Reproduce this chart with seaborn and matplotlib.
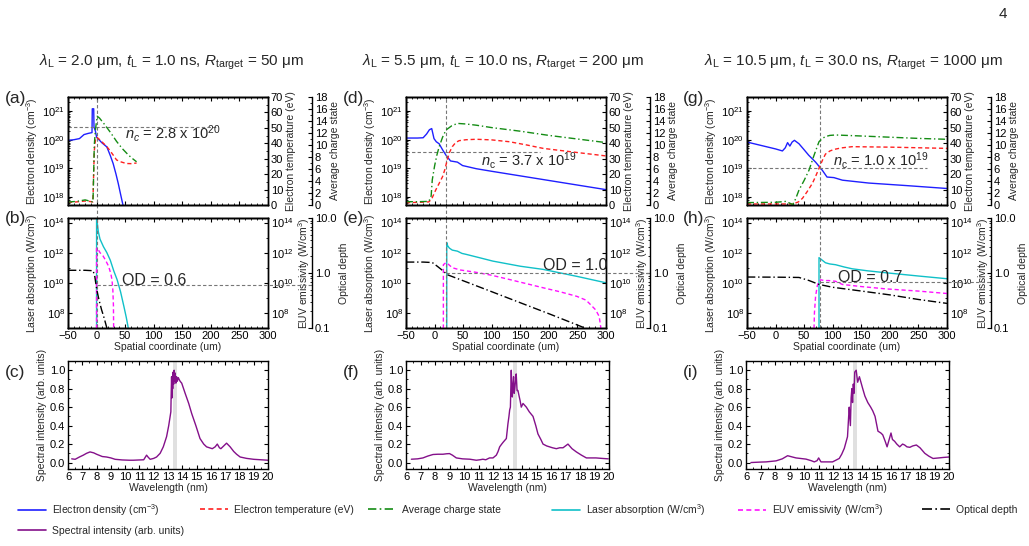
import numpy as np
import matplotlib
matplotlib.use('Agg')
import matplotlib.pyplot as plt
import matplotlib.ticker as mticker
from matplotlib.lines import Line2D
import seaborn as sns

# ---------------- data ----------------
titles = [r'$\lambda_\mathrm{L}$ = 2.0 μm, $t_\mathrm{L}$ = 1.0 ns, $R_\mathrm{target}$ = 50 μm',
          r'$\lambda_\mathrm{L}$ = 5.5 μm, $t_\mathrm{L}$ = 10.0 ns, $R_\mathrm{target}$ = 200 μm',
          r'$\lambda_\mathrm{L}$ = 10.5 μm, $t_\mathrm{L}$ = 30.0 ns, $R_\mathrm{target}$ = 1000 μm']
xc = [0, 20, 78]                      # critical surface position (um)
nc = [2.8e20, 3.7e19, 1.0e19]          # critical density
nc_txt = [r'$n_c$ = 2.8 x 10$^{20}$', r'$n_\mathrm{c}$ = 3.7 x 10$^{19}$', r'$n_\mathrm{c}$ = 1.0 x 10$^{19}$']
nc_end = [210, 185, 265]
od_cut = [0.6, 1.0, 0.7]
od_txt = ['OD = 0.6', 'OD = 1.0', 'OD = 0.7']

# (a) electron density (log10 cm^-3), temperature (eV), charge state
ne_a_x = [-50, -40, -30, -22, -15, -8, -7.5, -5, -4.5, -2, 0, 9, 18, 24, 29, 34, 38, 42, 47]
ne_a_lg = [19.98, 20.0, 20.04, 20.18, 20.22, 20.25, 21.08, 21.08, 20.44, 20.3, 20.09, 19.9, 19.75, 19.45, 19.17, 18.8, 18.47, 18.1, 17.65]
te_a_x = [-50, -35, -20, -10, -6.5, -6, -4, -2, 0, 5, 12, 18, 24, 29, 35, 43, 52, 60, 70]
te_a = [1.7, 2.0, 2.6, 2.2, 2.0, 8, 35, 42, 44, 42.5, 40, 37.8, 35, 32.4, 29.2, 27.9, 26.9, 26.8, 27.2]
z_a_x = [-50, -35, -20, -10, -6.5, -6, -4, -2, 1, 5, 15, 25, 35, 45, 55, 62, 70]
z_a = [0.5, 0.6, 0.85, 0.6, 0.5, 1.5, 10, 12.5, 14.8, 14.5, 13.3, 12, 10.6, 9.4, 8.4, 7.8, 7.2]
# (b) laser absorption, EUV emissivity (log10 W/cm^3), optical depth
las_b_x = [0, 0, 3, 6, 12, 18, 24, 30, 36, 42, 48, 52, 56]
las_b_lg = [6.5, 14.4, 13.4, 12.9, 12.4, 12.0, 11.5, 10.8, 10.2, 9.4, 8.4, 7.7, 6.9]
euv_b_x = [0, 0, 3, 6, 11, 15, 21, 25, 27, 28.5, 29.5, 30]
euv_b_lg = [6.5, 12.3, 12.2, 12.0, 11.8, 11.55, 11.1, 10.6, 10.2, 9.5, 8.5, 6.5]
od_b_x = [-50, -20, -6, -3, 0, 3, 6, 9, 12, 15, 18]
od_b = [1.12, 1.12, 1.1, 0.85, 0.52, 0.37, 0.275, 0.21, 0.168, 0.13, 0.1]
# (c) spectrum
sp_c_x = [6.26, 6.5, 6.8, 7.07, 7.3, 7.54, 7.8, 8.0, 8.4, 8.7, 9.0, 9.3, 9.8, 10.3, 10.57, 11.0, 11.3, 11.42, 11.5, 11.6,
          11.75, 12.0, 12.2, 12.45, 12.67, 12.9, 13.05, 13.14, 13.2, 13.22, 13.25, 13.28, 13.3, 13.33, 13.36, 13.4, 13.43,
          13.46, 13.5, 13.55, 13.6, 13.65, 13.72, 13.78, 13.85, 13.96, 14.2, 14.45, 14.66, 14.95, 15.24, 15.5, 15.7, 15.9,
          16.1, 16.3, 16.45, 16.6, 16.7, 16.9, 17.1, 17.35, 17.6, 17.8, 18.05, 18.5, 19.0, 19.5, 20.0]
sp_c = [0.04, 0.035, 0.06, 0.08, 0.1, 0.115, 0.105, 0.09, 0.065, 0.06, 0.05, 0.035, 0.028, 0.025, 0.025, 0.028, 0.03, 0.06,
        0.08, 0.06, 0.035, 0.045, 0.06, 0.1, 0.17, 0.28, 0.4, 0.49, 0.55, 0.72, 0.93, 0.7, 0.9, 0.8, 0.98, 0.85, 1.0, 0.88,
        0.97, 0.86, 0.93, 0.88, 0.92, 0.9, 0.88, 0.86, 0.75, 0.64, 0.53, 0.4, 0.26, 0.2, 0.17, 0.16, 0.15, 0.17, 0.2, 0.16,
        0.15, 0.18, 0.21, 0.17, 0.12, 0.09, 0.06, 0.045, 0.035, 0.03, 0.025]

# (d)
ne_d_x = [-50, -30, -20, -14, -9, -5, -1, 3, 8, 14, 20, 28, 40, 49, 60, 73, 100, 150, 200, 250, 300]
ne_d_lg = [20.06, 20.06, 20.07, 20.2, 20.35, 20.39, 20.04, 19.93, 19.86, 19.65, 19.46, 19.26, 19.22, 19.1, 19.05, 18.99,
           18.9, 18.74, 18.58, 18.42, 18.26]
te_d_x = [-50, -30, -10, -5, 2, 8, 14, 18, 22, 26, 31, 37, 43, 55, 73, 100, 131, 160, 190, 250, 300]
te_d = [1.5, 1.7, 2, 4, 9.7, 14, 18.4, 23, 29, 34, 37.8, 40.5, 41.7, 42.3, 42.6, 42.2, 41, 39, 36.7, 34, 31.8]
z_d_x = [-50, -30, -10, -6, -4, 0, 4, 8, 14, 20, 30, 40, 55, 73, 100, 150, 200, 250, 300]
z_d = [0.55, 0.55, 0.6, 1.5, 4.2, 6.5, 8.3, 9.7, 11.3, 12.5, 13.2, 13.6, 13.5, 13.3, 12.9, 12.3, 11.6, 11.0, 10.4]
# (e)
las_e_x = [21.3, 21.3, 23, 26, 31, 40, 48, 55, 75, 102, 150, 190, 250, 300]
las_e_lg = [6.5, 12.67, 12.45, 12.3, 12.17, 12.1, 11.95, 11.89, 11.7, 11.44, 11.1, 10.89, 10.42, 10.0]
euv_e_x = [15.4, 15.4, 19.6, 22, 31, 45, 72, 100, 131, 160, 190, 220, 249, 265, 273, 282, 288, 293]
euv_e_lg = [6.5, 11.2, 11.33, 11.3, 11.0, 10.85, 10.7, 10.5, 10.22, 9.95, 9.67, 9.4, 9.1, 8.85, 8.55, 8.2, 7.77, 6.5]
od_e_x = [-50, -20, -4, 5, 13.6, 22.5, 60, 100, 150, 200, 261, 280]
od_e = [1.58, 1.58, 1.55, 1.32, 1.12, 0.93, 0.66, 0.457, 0.288, 0.182, 0.102, 0.085]
# (f)
sp_f_x = [6.37, 6.8, 7.17, 7.5, 7.86, 8.2, 8.55, 8.8, 9.0, 9.2, 9.47, 9.9, 10.4, 10.85, 11.1, 11.3, 11.5, 11.76, 12.0,
          12.23, 12.35, 12.46, 12.6, 12.7, 12.92, 13.03, 13.1, 13.15, 13.2, 13.26, 13.3, 13.33, 13.38, 13.42, 13.46, 13.5,
          13.55, 13.6, 13.66, 13.72, 13.8, 13.87, 13.95, 14.07, 14.3, 14.5, 14.76, 14.95, 15.1, 15.3, 15.45, 15.7, 15.9,
          16.1, 16.37, 16.6, 16.83, 17.0, 17.17, 17.45, 17.75, 18.1, 18.44, 19.1, 19.5, 19.95]
sp_f = [0.036, 0.04, 0.05, 0.07, 0.087, 0.09, 0.09, 0.095, 0.097, 0.08, 0.05, 0.04, 0.036, 0.025, 0.03, 0.036, 0.03, 0.05,
        0.05, 0.08, 0.12, 0.17, 0.2, 0.22, 0.26, 0.42, 0.5, 0.57, 0.6, 1.0, 0.8, 0.71, 0.85, 0.93, 0.75, 0.8, 0.88, 0.96,
        0.78, 0.78, 0.72, 0.67, 0.6, 0.64, 0.6, 0.55, 0.5, 0.4, 0.31, 0.25, 0.2, 0.18, 0.17, 0.16, 0.15, 0.16, 0.16, 0.18,
        0.2, 0.15, 0.115, 0.08, 0.05, 0.05, 0.045, 0.04]

# (g)
ne_g_x = [-50, 0, 12, 17, 21, 25, 29, 33, 41, 50, 58, 70, 82, 90, 102, 117, 163, 230, 300]
ne_g_lg = [19.92, 19.68, 19.61, 19.72, 19.9, 19.78, 19.92, 19.98, 19.86, 19.65, 19.46, 19.22, 18.93, 18.7, 18.68, 18.59,
           18.49, 18.4, 18.3]
te_g_x = [-50, 0, 30, 40, 47, 55, 64.4, 70, 76, 82, 87.3, 95, 102, 115, 134, 200, 300]
te_g = [0.65, 0.65, 0.65, 2, 4.3, 8.5, 14, 18.5, 23.8, 29, 33, 35, 36, 37, 37.8, 37.5, 36.7]
z_g_x = [-50, 0, 18, 25, 30, 35, 41, 50, 58.5, 67, 76, 82, 87.3, 95, 105, 150, 200, 250, 300]
z_g = [0.4, 0.45, 0.6, 0.3, 0.05, 1.0, 2.5, 4.1, 5.8, 8.2, 10.55, 11.1, 11.4, 11.6, 11.67, 11.5, 11.3, 11.1, 10.95]
# (h)
las_h_x = [76, 76, 80, 87.3, 95, 105, 120, 134, 160, 192, 250, 300]
las_h_lg = [6.5, 11.67, 11.55, 11.33, 11.25, 11.2, 11.05, 10.93, 10.8, 10.67, 10.45, 10.27]
euv_h_x = [67, 68, 70, 73, 76, 79, 85, 93, 105, 117, 150, 192, 250, 300]
euv_h_lg = [6.5, 8.0, 9.1, 9.8, 10.1, 10.2, 10.15, 10.15, 10.1, 9.89, 9.75, 9.6, 9.45, 9.29]
od_h_x = [-50, 0, 41, 58.5, 76, 100, 150, 200, 250, 300]
od_h = [0.845, 0.84, 0.83, 0.73, 0.62, 0.55, 0.47, 0.40, 0.33, 0.28]
# (i)
sp_i_x = [6.34, 7.0, 7.38, 8.07, 8.5, 8.87, 9.2, 9.45, 10.14, 10.5, 10.71, 10.9, 11.01, 11.17, 11.5, 11.97, 12.43, 12.6,
          12.78, 13.0, 13.08, 13.12, 13.2, 13.25, 13.3, 13.35, 13.4, 13.45, 13.5, 13.6, 13.7, 13.82, 14.05, 14.2, 14.4,
          14.6, 14.74, 14.9, 15.1, 15.3, 15.43, 15.6, 15.73, 16.0, 16.1, 16.25, 16.4, 16.6, 16.8, 16.94, 17.1, 17.3, 17.5,
          17.75, 18.0, 18.33, 18.6, 18.9, 19.3, 19.6, 20.0]
sp_i = [0.0, 0.005, 0.007, 0.018, 0.04, 0.074, 0.06, 0.05, 0.037, 0.02, 0.007, 0.02, 0.05, 0.007, 0.007, 0.007, 0.044, 0.09,
        0.154, 0.28, 0.5, 0.6, 0.4, 0.7, 0.8, 0.65, 0.85, 0.75, 0.98, 1.0, 0.87, 0.93, 0.8, 0.72, 0.65, 0.6, 0.56, 0.5,
        0.34, 0.32, 0.3, 0.23, 0.17, 0.32, 0.25, 0.23, 0.2, 0.17, 0.2, 0.19, 0.17, 0.165, 0.18, 0.19, 0.16, 0.1, 0.07,
        0.044, 0.05, 0.055, 0.06]

euv_band = (13.365, 13.635)   # 2% in-band around 13.5 nm

# ---------------- style ----------------
sns.set_style('ticks')
plt.rcParams['font.family'] = ['Liberation Sans', 'DejaVu Sans']
plt.rcParams['mathtext.fontset'] = 'custom'
plt.rcParams['mathtext.rm'] = 'Liberation Sans'
plt.rcParams['mathtext.it'] = 'Liberation Sans:italic'
plt.rcParams['mathtext.bf'] = 'Liberation Sans:bold'
plt.rcParams['xtick.direction'] = 'in'
plt.rcParams['ytick.direction'] = 'in'
plt.rcParams['xtick.labelsize'] = 8
plt.rcParams['ytick.labelsize'] = 8
plt.rcParams['xtick.major.size'] = 3
plt.rcParams['ytick.major.size'] = 3
plt.rcParams['xtick.minor.size'] = 1.5
plt.rcParams['ytick.minor.size'] = 1.5
plt.rcParams['xtick.major.pad'] = 2
plt.rcParams['ytick.major.pad'] = 2
plt.rcParams['axes.edgecolor'] = 'black'
plt.rcParams['axes.linewidth'] = 1.0
plt.rcParams['xtick.color'] = 'black'
plt.rcParams['ytick.color'] = 'black'
plt.rcParams['axes.labelsize'] = 7.5
plt.rcParams['axes.labelpad'] = 2

C_NE, C_TE, C_Z = '#1f1fff', '#ff2020', '#148c14'
C_LAS, C_EUV, C_OD, C_SP = '#10c0c8', '#ff10ff', 'black', '#84108a'
LS_TE = (0, (3, 2))
LS_Z = (0, (5, 2, 1, 2))
LS_OD = (0, (6, 2, 1, 2))
GREY = '#777777'

W, H = 1029, 546
fig = plt.figure(figsize=(W / 100, H / 100), dpi=100)


def add_ax(x0, y0, x1, y1):
    return fig.add_axes([x0 / W, 1 - y1 / H, (x1 - x0) / W, (y1 - y0) / H])


def line(ax, x, y, color, ls='-', lw=1.0):
    sns.lineplot(x=np.asarray(x, float), y=np.asarray(y, float), ax=ax, color=color,
                 linestyle=ls, lw=lw, sort=False, estimator=None)


col_left = [68, 406, 747]
sp_box = [(68, 268), (406, 609), (746, 949)]
letters = [('(a)', '(b)', '(c)'), ('(d)', '(e)', '(f)'), ('(g)', '(h)', '(i)')]
letter_x = [5, 343, 683]
title_x = [171, 503, 853]

top_data = [(ne_a_x, ne_a_lg, te_a_x, te_a, z_a_x, z_a),
            (ne_d_x, ne_d_lg, te_d_x, te_d, z_d_x, z_d),
            (ne_g_x, ne_g_lg, te_g_x, te_g, z_g_x, z_g)]
mid_data = [(las_b_x, las_b_lg, euv_b_x, euv_b_lg, od_b_x, od_b),
            (las_e_x, las_e_lg, euv_e_x, euv_e_lg, od_e_x, od_e),
            (las_h_x, las_h_lg, euv_h_x, euv_h_lg, od_h_x, od_h)]
sp_data = [(sp_c_x, sp_c), (sp_f_x, sp_f), (sp_i_x, sp_i)]
nc_pos = [(50, 1.66e20), (81, 1.9e19), (100, 1.9e19)]
od_pos = [(44, 0.73), (190, 1.38), (110, 0.83)]

XL = (-50, 300)
OFF = 1.22

for k in range(3):
    x0 = col_left[k]
    # ---------- top panel ----------
    ax = add_ax(x0, 97, x0 + 200, 205)
    ax_t = ax.twinx()
    ax_z = ax.twinx()
    ax_z.spines['right'].set_position(('axes', OFF))
    ax.set_yscale('log')
    nx, nlg, tx, tv, zx, zv = top_data[k]
    line(ax, nx, 10 ** np.asarray(nlg), C_NE)
    line(ax_t, tx, tv, C_TE, LS_TE)
    line(ax_z, zx, zv, C_Z, LS_Z)
    ax.hlines(nc[k], XL[0], nc_end[k], colors=GREY, linestyles=(0, (3, 2)), lw=0.8)
    ax.axvline(xc[k], ymin=-0.125, ymax=1, color=GREY, ls=(0, (3, 2)), lw=0.8, clip_on=False)
    ax.text(nc_pos[k][0], nc_pos[k][1], nc_txt[k], fontsize=10.5, va='center', ha='left')
    ax.set_xlim(*XL)
    ax.set_ylim(5.3e17, 3.1e21)
    ax_t.set_ylim(0, 70)
    ax_z.set_ylim(0, 18)
    ax.yaxis.set_major_locator(mticker.LogLocator(base=10, numticks=10))
    ax.yaxis.set_minor_locator(mticker.LogLocator(base=10, subs=np.arange(2, 10), numticks=20))
    ax.yaxis.set_minor_formatter(mticker.NullFormatter())
    ax.xaxis.set_major_locator(mticker.MultipleLocator(50))
    ax.xaxis.set_minor_locator(mticker.MultipleLocator(10))
    ax.tick_params(axis='x', which='both', top=True, labelbottom=False)
    ax.tick_params(axis='y', which='both', right=False)
    ax_t.yaxis.set_major_locator(mticker.MultipleLocator(10))
    ax_t.yaxis.set_minor_locator(mticker.MultipleLocator(5))
    ax_z.yaxis.set_major_locator(mticker.MultipleLocator(2))
    ax_z.yaxis.set_minor_locator(mticker.MultipleLocator(1))
    ax.set_ylabel('Electron density (cm$^{-3}$)')
    ax_t.set_ylabel('Electron temperature (eV)')
    ax_z.set_ylabel('Average charge state')
    ax.set_xlabel('')

    # ---------- middle panel ----------
    bx = add_ax(x0, 218, x0 + 200, 328)
    bx_e = bx.twinx()
    bx_o = bx.twinx()
    bx_o.spines['right'].set_position(('axes', OFF))
    bx.set_yscale('log')
    bx_e.set_yscale('log')
    bx_o.set_yscale('log')
    lx, llg, ex, elg, ox, ov = mid_data[k]
    line(bx, lx, 10 ** np.asarray(llg), C_LAS)
    line(bx_e, ex, 10 ** np.asarray(elg), C_EUV, LS_TE)
    line(bx_o, ox, ov, C_OD, LS_OD)
    bx.axvline(xc[k], color=GREY, ls=(0, (3, 2)), lw=0.8)
    x_end = XL[1] + (OFF - 1) * (XL[1] - XL[0])
    bx_o.hlines(od_cut[k], xc[k], x_end, colors=GREY, linestyles=(0, (3, 2)), lw=0.8, clip_on=False)
    bx_o.text(od_pos[k][0], od_pos[k][1], od_txt[k], fontsize=11.5, va='center', ha='left')
    bx.set_xlim(*XL)
    for a in (bx, bx_e):
        a.set_ylim(1e7, 2e14)
        a.yaxis.set_major_locator(mticker.FixedLocator([1e8, 1e10, 1e12, 1e14]))
        a.yaxis.set_major_formatter(mticker.LogFormatterSciNotation())
        a.yaxis.set_minor_locator(mticker.LogLocator(base=10, subs=(1.0,), numticks=20))
        a.yaxis.set_minor_formatter(mticker.NullFormatter())
    bx_o.set_ylim(0.1, 10)
    bx_o.yaxis.set_major_locator(mticker.FixedLocator([0.1, 1, 10]))
    bx_o.yaxis.set_major_formatter(mticker.FormatStrFormatter('%.1f'))
    bx_o.yaxis.set_minor_locator(mticker.LogLocator(base=10, subs=np.arange(2, 10), numticks=20))
    bx_o.yaxis.set_minor_formatter(mticker.NullFormatter())
    bx.xaxis.set_major_locator(mticker.MultipleLocator(50))
    bx.xaxis.set_minor_locator(mticker.MultipleLocator(10))
    bx.tick_params(axis='x', which='both', top=True)
    bx.tick_params(axis='y', which='both', right=False)
    bx.set_ylabel('Laser absorption (W/cm$^3$)')
    bx_e.set_ylabel('EUV emissivity (W/cm$^3$)')
    bx_o.set_ylabel('Optical depth')
    bx.set_xlabel('Spatial coordinate (um)', labelpad=1)

    # ---------- spectrum ----------
    s0, s1 = sp_box[k]
    cx = add_ax(s0, 361, s1, 469)
    cx.axvspan(*euv_band, color='#e0e0e0', lw=0)
    sx, sy = sp_data[k]
    line(cx, sx, sy, C_SP)
    cx.set_xlim(6, 20)
    cx.set_ylim(-0.07, 1.1)
    cx.xaxis.set_major_locator(mticker.MultipleLocator(1))
    cx.xaxis.set_minor_locator(mticker.MultipleLocator(0.5))
    cx.yaxis.set_major_locator(mticker.MultipleLocator(0.2))
    cx.yaxis.set_minor_locator(mticker.MultipleLocator(0.1))
    cx.yaxis.set_major_formatter(mticker.FormatStrFormatter('%.1f'))
    cx.tick_params(which='both', top=True, right=True)
    cx.set_xlabel('Wavelength (nm)', labelpad=1)
    cx.set_ylabel('Spectral intensity (arb. units)')

    # ---------- labels ----------
    for lab, yy in zip(letters[k], (98, 218, 372)):
        fig.text(letter_x[k] / W, 1 - yy / H, lab, fontsize=12.5, va='center', ha='left')
    fig.text(title_x[k] / W, 1 - 62 / H, titles[k], fontsize=11, va='center', ha='center')

fig.text(1003 / W, 1 - 14 / H, '4', fontsize=11, va='center', ha='center')

# ---------------- legend ----------------
leg_items = [('Electron density (cm$^{-3}$)', C_NE, '-', 18, 510),
             ('Electron temperature (eV)', C_TE, LS_TE, 200, 510),
             ('Average charge state', C_Z, LS_Z, 368, 510),
             ('Laser absorption (W/cm$^3$)', C_LAS, '-', 552, 510),
             ('EUV emissivity (W/cm$^3$)', C_EUV, LS_TE, 738, 510),
             ('Optical depth', C_OD, LS_OD, 922, 510),
             ('Spectral intensity (arb. units)', C_SP, '-', 18, 531)]
for lab, c, ls, lx_, ly_ in leg_items:
    h = Line2D([], [], color=c, ls=ls, lw=1.2)
    fig.legend(handles=[h], labels=[lab], loc='center left', bbox_to_anchor=(lx_ / W, 1 - ly_ / H),
               frameon=False, borderpad=0, borderaxespad=0, handlelength=2.7, handletextpad=0.6,
               fontsize=7.5)

fig.savefig('out.png', dpi=100)
